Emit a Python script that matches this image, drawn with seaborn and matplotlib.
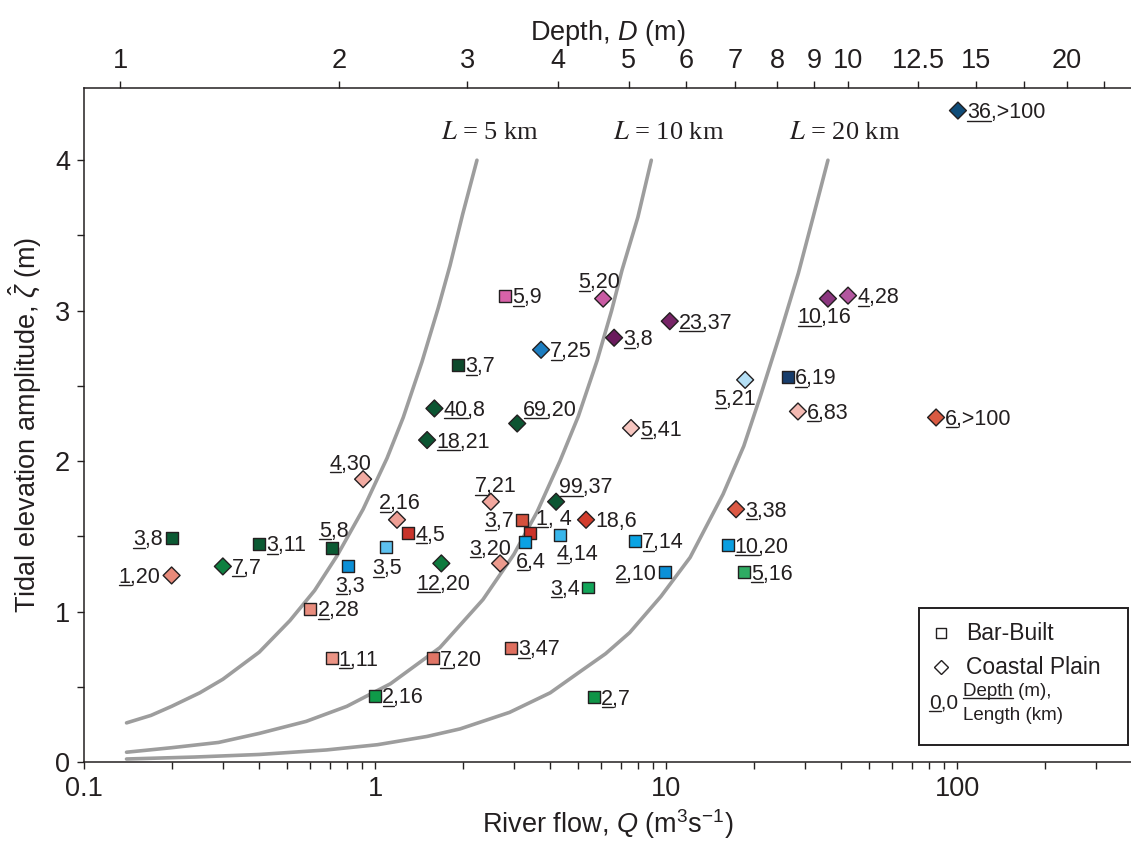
import matplotlib
matplotlib.use("Agg")
import matplotlib.pyplot as plt
import seaborn as sns
import pandas as pd
from matplotlib.ticker import FixedLocator, NullLocator, LogLocator, MultipleLocator, FixedFormatter, NullFormatter
from matplotlib.lines import Line2D
from matplotlib.patches import Rectangle

# ---------------- data ----------------
river_flow = [100.7, 2.80, 6.08, 6.63, 10.3, 36.0, 42.2, 3.72, 1.93, 1.60,
              1.51, 3.08, 18.7, 26.2, 28.4, 84.7, 7.58, 0.91, 1.19, 1.30,
              1.09, 0.81, 0.71, 0.40, 0.20, 0.20, 0.30, 1.69, 2.50, 3.20,
              3.41, 3.28, 4.32, 4.19, 5.31, 2.69, 5.40, 7.83, 9.93, 17.4,
              16.3, 18.5, 0.60, 0.71, 1.58, 2.93, 1.00, 5.66]
tidal_amp = [4.33, 3.10, 3.08, 2.82, 2.93, 3.08, 3.10, 2.74, 2.64, 2.35,
             2.14, 2.25, 2.54, 2.56, 2.33, 2.29, 2.22, 1.88, 1.61, 1.52,
             1.43, 1.30, 1.42, 1.45, 1.49, 1.24, 1.30, 1.32, 1.73, 1.61,
             1.52, 1.46, 1.51, 1.73, 1.61, 1.32, 1.16, 1.47, 1.26, 1.68,
             1.44, 1.26, 1.02, 0.69, 0.69, 0.76, 0.44, 0.43]
estuary_type = ["Coastal Plain", "Bar-Built", "Coastal Plain", "Coastal Plain", "Coastal Plain",
                "Coastal Plain", "Coastal Plain", "Coastal Plain", "Bar-Built", "Coastal Plain",
                "Coastal Plain", "Coastal Plain", "Coastal Plain", "Bar-Built", "Coastal Plain",
                "Coastal Plain", "Coastal Plain", "Coastal Plain", "Coastal Plain", "Bar-Built",
                "Bar-Built", "Bar-Built", "Bar-Built", "Bar-Built", "Bar-Built",
                "Coastal Plain", "Coastal Plain", "Coastal Plain", "Coastal Plain", "Bar-Built",
                "Bar-Built", "Bar-Built", "Bar-Built", "Coastal Plain", "Coastal Plain",
                "Coastal Plain", "Bar-Built", "Bar-Built", "Bar-Built", "Coastal Plain",
                "Bar-Built", "Bar-Built", "Bar-Built", "Bar-Built", "Bar-Built",
                "Bar-Built", "Bar-Built", "Bar-Built"]
depth_lbl = ["36", "5", "5", "3", "23", "10", "4", "7", "3", "40",
             "18", "69", "5", "6", "6", "6", "5", "4", "2", "4",
             "3", "3", "5", "3", "3", "1", "7", "12", "7", "3",
             "1", "6", "4", "99", "18", "3", "3", "7", "2", "3",
             "10", "5", "2", "1", "7", "3", "2", "2"]
length_lbl = [">100", "9", "20", "8", "37", "16", "28", "25", "7", "8",
              "21", "20", "21", "19", "83", ">100", "41", "30", "16", "5",
              "5", "3", "8", "11", "8", "20", "7", "20", "21", "7",
              " 4", "4", "14", "37", "6", "20", "4", "14", "10", "38",
              "20", "16", "28", "11", "20", "47", "16", "7"]
depth_underlined = [True] * 48
depth_underlined[34] = False
point_colors = ["#0f4c78", "#d862a8", "#c95ba3", "#6a1b5d", "#772467", "#8b367f", "#b3579f", "#1c7dc0",
                "#0c4a2c", "#0c5532", "#0c5532", "#0c5532", "#b5e0f6", "#173d6c", "#f3b9b2", "#d95a42",
                "#f6c6c0", "#f2aba2", "#ee9f95", "#c8342b", "#5dc1ef", "#0b8fd6", "#0b5a33", "#0b5a33",
                "#0b5a33", "#e88a7a", "#0e8040", "#0e7a3e", "#f2a79e", "#d4513d", "#cc3229", "#0aa1e3",
                "#38b6eb", "#0c5532", "#d23d2d", "#ec9a8d", "#12a559", "#0aa4e4", "#0a90d8", "#dc5944",
                "#0a9ee0", "#2fab63", "#e98d7e", "#ec9485", "#e07566", "#df6f5f", "#0f9a49", "#0f9447"]

# iso-length curves
L5_flow = [0.14, 0.17, 0.2, 0.25, 0.3, 0.4, 0.51, 0.62, 0.74, 0.91, 1.1, 1.25, 1.45, 1.65, 1.81, 2.0, 2.24]
L5_amp = [0.26, 0.31, 0.37, 0.46, 0.55, 0.73, 0.94, 1.14, 1.37, 1.68, 2.02, 2.29, 2.66, 3.02, 3.30, 3.64, 4.0]
L10_flow = [0.14, 0.2, 0.29, 0.4, 0.58, 0.8, 1.13, 1.67, 2.35, 3.0, 3.6, 4.32, 5.0, 5.8, 6.5, 7.06, 8.0, 8.9]
L10_amp = [0.065, 0.095, 0.13, 0.19, 0.27, 0.37, 0.52, 0.76, 1.08, 1.38, 1.66, 2.0, 2.3, 2.67, 3.0, 3.27, 3.62, 4.0]
L20_flow = [0.14, 0.24, 0.4, 0.68, 1.02, 1.51, 1.96, 2.9, 4.0, 5.06, 6.2, 7.5, 9.6, 12.1, 15.7, 18.5, 21.0, 24.6, 28.5, 32.0, 36.0]
L20_amp = [0.02, 0.033, 0.05, 0.08, 0.115, 0.17, 0.22, 0.33, 0.46, 0.6, 0.72, 0.86, 1.1, 1.36, 1.78, 2.1, 2.42, 2.84, 3.25, 3.62, 4.0]
curve_names = ["$L$ = 5 km", "$L$ = 10 km", "$L$ = 20 km"]
curve_label_pos = [(2.48, 4.18), (10.2, 4.18), (41.2, 4.18)]

x_ticks = [0.1, 1, 10, 100]
x_tick_labels = ["0.1", "1", "10", "100"]
y_ticks = [0, 1, 2, 3, 4]
depth_ticks = [1, 2, 3, 4, 5, 6, 7, 8, 9, 10, 12.5, 15, 17.5, 20, 22.5]
depth_tick_labels = ["1", "2", "3", "4", "5", "6", "7", "8", "9", "10", "12.5", "15", "", "20", ""]

# label placement: (dx px, dy px of text centre from marker, ha); None = to the right
placement = [None] * 48
placement[2] = (-4, -18, "center")
placement[5] = (-4, 17, "center")
placement[11] = (6, -15, "left")
placement[12] = (-10, 18, "center")
placement[17] = (-13, -17, "center")
placement[18] = (3, -18, "center")
placement[20] = (1, 20, "center")
placement[22] = (2, -19, "center")
placement[21] = (2, 18, "center")
placement[24] = (-9, 0, "right")
placement[25] = (-11, 0, "right")
placement[27] = (2, 19, "center")
placement[28] = (5, -17, "center")
placement[29] = (-8, 0, "right")
placement[30] = (6, -16, "left")
placement[31] = (6, 18, "center")
placement[32] = (-3, 18, "left")
placement[33] = (3, -16, "left")
placement[35] = (-10, -16, "center")
placement[36] = (-8, 0, "right")
placement[38] = (-8, 0, "right")

# ---------------- style ----------------
ink = "#231f20"
sns.set_style("ticks")
plt.rcParams["font.family"] = ["Liberation Sans", "DejaVu Sans"]
plt.rcParams["mathtext.fontset"] = "custom"
plt.rcParams["mathtext.rm"] = "Liberation Sans"
plt.rcParams["mathtext.it"] = "Liberation Sans:italic"
plt.rcParams["mathtext.bf"] = "Liberation Sans:bold"

W, H = 1131, 848
fig = plt.figure(figsize=(W / 100, H / 100), dpi=100)
L_px, R_px, T_px, B_px = 84, 1131, 88, 762
ax = fig.add_axes([L_px / W, 1 - B_px / H, (R_px - L_px) / W, (B_px - T_px) / H])
ax.set_xscale("log")
ax.set_xlim(0.1, 396)
ax.set_ylim(0, 4.48)

# curves
for fx, fy in [(L5_flow, L5_amp), (L10_flow, L10_amp), (L20_flow, L20_amp)]:
    sns.lineplot(x=fx, y=fy, ax=ax, color="#9d9d9d", linewidth=2.6, sort=False,
                 estimator=None, zorder=2)
for name, (qx, qy) in zip(curve_names, curve_label_pos):
    ax.text(qx, qy, name, ha="center", va="center", fontsize=19, color=ink,
            family="Liberation Serif", math_fontfamily="stix", zorder=4)

# points
df = pd.DataFrame({"Q": river_flow, "zeta": tidal_amp, "type": estuary_type,
                   "pid": [f"p{i}" for i in range(len(river_flow))]})
palette = {f"p{i}": c for i, c in enumerate(point_colors)}
sns.scatterplot(data=df, x="Q", y="zeta", hue="pid", palette=palette, style="type",
                markers={"Bar-Built": "s", "Coastal Plain": "D"}, s=74,
                edgecolor=ink, linewidth=1.0, legend=False, ax=ax, zorder=3)

labels = []
for i in range(len(river_flow)):
    if placement[i] is None:
        dx = 7 if estuary_type[i] == "Bar-Built" else 9
        dy, ha = 0, "left"
    else:
        dx, dy, ha = placement[i]
    txt = f"{depth_lbl[i]},{length_lbl[i]}"
    t = ax.annotate(txt, xy=(river_flow[i], tidal_amp[i]),
                    xytext=(dx * 0.72, -(dy + 7.5) * 0.72), textcoords="offset points",
                    ha=ha, va="baseline", fontsize=15.5, color=ink, zorder=5)
    labels.append((t, i, dy))

# axes styling
for sp in ["left", "bottom"]:
    ax.spines[sp].set_linewidth(1.1)
    ax.spines[sp].set_color(ink)
ax.spines["right"].set_visible(False)
ax.spines["top"].set_visible(False)
ax.xaxis.set_major_locator(FixedLocator(x_ticks))
ax.xaxis.set_major_formatter(FixedFormatter(x_tick_labels))
ax.xaxis.set_minor_locator(LogLocator(base=10, subs=range(2, 10), numticks=20))
ax.xaxis.set_minor_formatter(NullFormatter())
ax.yaxis.set_major_locator(FixedLocator(y_ticks))
ax.yaxis.set_minor_locator(MultipleLocator(0.5))
ax.tick_params(which="both", direction="out", length=5, width=1.0, color=ink,
               labelsize=19.5, labelcolor=ink, pad=5)
ax.set_xlabel("River flow, $Q$ (m$^3$s$^{-1}$)", fontsize=19.5, color=ink, labelpad=4)
ax.set_ylabel(r"Tidal elevation amplitude, $\hat{\zeta}$ (m)", fontsize=19.5, color=ink, labelpad=8)

ax2 = ax.twiny()
ax2.set_xscale("log")
ax2.set_xlim(ax.get_xlim())
ax2.xaxis.set_major_locator(FixedLocator([0.133 * d ** 2.5 for d in depth_ticks]))
ax2.xaxis.set_major_formatter(FixedFormatter(depth_tick_labels))
ax2.xaxis.set_minor_locator(NullLocator())
for sp in ["left", "right", "bottom"]:
    ax2.spines[sp].set_visible(False)
ax2.spines["top"].set_linewidth(1.1)
ax2.spines["top"].set_color(ink)
ax2.tick_params(which="both", direction="out", length=5, width=1.0, color=ink,
                labelsize=19.5, labelcolor=ink, pad=5)
ax2.set_xlabel("Depth, $D$ (m)", fontsize=19.5, color=ink, labelpad=6)

# custom legend box
lx0, lx1 = (919 - L_px) / (R_px - L_px), (1128 - L_px) / (R_px - L_px)
ly0, ly1 = (B_px - 745) / (B_px - T_px), (B_px - 608) / (B_px - T_px)
ax.add_patch(Rectangle((lx0, ly0), lx1 - lx0, ly1 - ly0, transform=ax.transAxes,
                       facecolor="white", edgecolor=ink, linewidth=1.4, zorder=6))
def axf(px, py):
    return (px - L_px) / (R_px - L_px), (B_px - py) / (B_px - T_px)
for mk, py, lab in [("s", 633, "Bar-Built"), ("D", 667, "Coastal Plain")]:
    mx, my = axf(941, py)
    ax.plot([mx], [my], marker=mk, markersize=7.5 if mk == "s" else 7,
            markerfacecolor="white", markeredgecolor=ink, markeredgewidth=1.0,
            transform=ax.transAxes, zorder=7, linestyle="none")
    tx, ty = axf(966, py)
    ax.text(tx, ty, lab, transform=ax.transAxes, ha="left", va="center",
            fontsize=16.5, color=ink, zorder=7)
leg_texts = []
tx, ty = axf(929, 703)
t00 = ax.text(tx, ty, "0,0", transform=ax.transAxes, ha="left", va="center",
              fontsize=15, color=ink, zorder=7)
tx, ty = axf(963, 691)
tdep = ax.text(tx, ty, "Depth (m),", transform=ax.transAxes, ha="left", va="center",
               fontsize=13.5, color=ink, zorder=7)
tx, ty = axf(963, 716)
ax.text(tx, ty, "Length (km)", transform=ax.transAxes, ha="left", va="center",
        fontsize=13.5, color=ink, zorder=7)

# underlines for depth values
fig.canvas.draw()
renderer = fig.canvas.get_renderer()
inv = fig.transFigure.inverted()

def underline(x0, x1, y):
    (fx0, fy), (fx1, _) = inv.transform([(x0, y), (x1, y)])
    fig.add_artist(Line2D([fx0, fx1], [fy, fy], transform=fig.transFigure,
                          color=ink, linewidth=1.0, zorder=8))

for t, i, dy in labels:
    if not depth_underlined[i]:
        continue
    bb = t.get_window_extent(renderer)
    w, h, d = renderer.get_text_width_height_descent(depth_lbl[i], t.get_fontproperties(), ismath=False)
    px, py = ax.transData.transform((river_flow[i], tidal_amp[i]))
    base = py - (dy + 7.5)
    underline(bb.x0 + 0.5, bb.x0 + w, base - 2.5)

for t, part in [(t00, "0"), (tdep, "Depth")]:
    bb = t.get_window_extent(renderer)
    w, h, d = renderer.get_text_width_height_descent(part, t.get_fontproperties(), ismath=False)
    # baseline = bottom of bbox + descent of the layout
    _, _, dd = renderer.get_text_width_height_descent("lp", t.get_fontproperties(), ismath=False)
    underline(bb.x0 + 0.5, bb.x0 + w, bb.y0 + dd - 2.5)

fig.savefig("out.png", dpi=100)
